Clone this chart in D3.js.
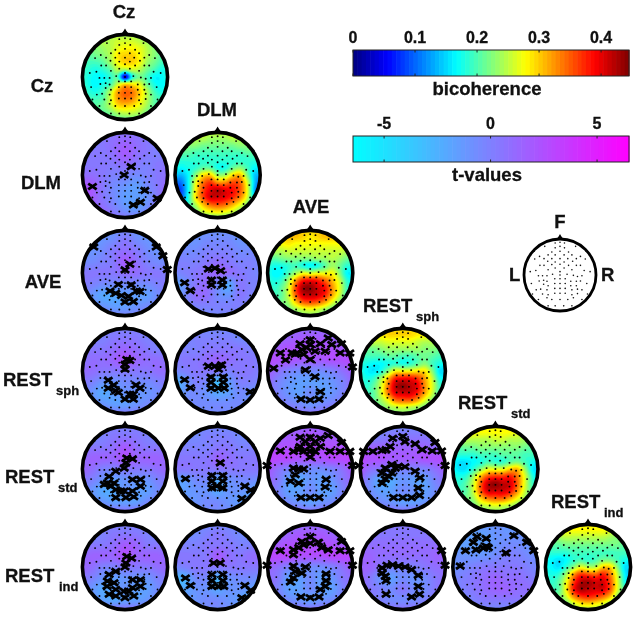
<!DOCTYPE html>
<html><head><meta charset="utf-8">
<script src="https://cdn.jsdelivr.net/npm/d3@7"></script>
<style>html,body{margin:0;background:#fff}svg{display:block;filter:blur(.35px)}text{font-family:"Liberation Sans",Arial,sans-serif;font-weight:bold;fill:#111;stroke:#111;stroke-width:.3px}</style>
</head><body><svg id="c" width="638" height="619"></svg>
<script>
const conditions=["Cz","DLM","AVE","REST_sph","REST_std","REST_ind"];
const bicoTicks=[0,.1,.2,.3,.4];
const tTicks=[-5,0,5];
// electrode layout, hundredths of head radius
const electrodes=[[0,-88],[-13,-86],[12,-86],[0,-77],[-41,-77],[42,-77],[-13,-73],[12,-73],[-69,-64],[70,-64],
[-22,-62],[0,-64],[23,-62],[-32,-54],[-13,-54],[11,-54],[32,-54],[-43,-44],[-22,-44],[0,-44],[21,-44],[44,-44],[-68,-43],[68,-43],
[-33,-37],[-13,-35],[11,-35],[34,-37],[-22,-28],[0,-29],[23,-26],[-54,-26],[-43,-26],[44,-26],[55,-26],[-13,-19],[11,-19],[-32,-14],[32,-14],
[-80,-9],[81,-9],[0,-9],[-58,2],[-47,2],[-35,2],[-20,-2],[19,-2],[36,1],[47,4],[59,2],[0,0],
[-77,23],[-56,16],[-44,14],[-35,17],[-14,10],[0,10],[14,10],[29,17],[44,17],[55,16],[72,23],
[-44,25],[-32,29],[-14,23],[0,23],[14,23],[29,29],[44,29],
[-64,40],[-52,38],[-35,40],[-14,36],[0,36],[14,36],[32,40],[47,38],[59,40],
[-47,51],[-32,53],[-14,49],[0,49],[14,49],[32,53],[47,50],
[-58,66],[-35,61],[-22,66],[0,66],[21,66],[36,61],[59,66],
[-32,83],[-13,83],[10,83],[32,83],[-74,51],[74,51],[-55,-50],[55,-50],[-65,-12],[65,-12]];
// bicoherence ×100 on a 13×13 grid
const bicoCz=[
[24,24,24,24,24,24,24,24,24,24,24,24,24],
[23,23,24,25,25,26,26,26,25,24,23,22,22],
[22,22,23,24,25,27,28,28,27,25,23,22,21],
[21,21,22,23,25,29,30,30,28,25,23,21,21],
[21,20,20,21,24,28,30,30,28,24,22,20,20],
[20,19,18,19,21,25,24,26,25,22,20,18,19],
[20,18,17,17,19,20,5,18,22,20,17,17,19],
[20,18,17,18,20,26,30,29,27,22,18,17,18],
[21,19,18,20,25,32,35,34,30,25,20,18,19],
[21,20,20,21,26,32,34,33,29,25,21,20,20],
[22,21,21,22,25,29,30,29,27,24,21,21,21],
[22,22,21,21,22,24,25,25,24,22,21,21,21],
[21,21,21,21,21,21,21,21,21,21,21,21,21]];
const bicoDLM=[
[26,26,26,26,26,26,26,26,26,26,26,26,26],
[26,25,25,25,25,24,24,24,25,25,25,25,26],
[25,24,23,23,22,22,22,22,22,23,23,24,24],
[22,21,21,20,20,20,20,20,20,20,21,21,22],
[20,19,19,19,19,19,19,19,19,19,19,19,19],
[18,17,18,19,21,21,18,18,21,23,20,17,17],
[15,14,17,23,29,30,24,24,29,31,23,15,14],
[11,11,17,27,34,37,33,33,36,35,27,15,10],
[9,9,17,28,36,40,42,40,39,36,28,14,8],
[11,10,18,29,36,41,41,40,38,34,27,16,10],
[15,15,19,25,31,35,36,35,32,28,23,18,15],
[18,19,20,22,26,28,29,28,26,23,21,19,18],
[20,20,20,20,21,21,22,21,21,20,20,20,20]];
const bicoAVE=[
[30,30,30,30,30,30,30,30,30,30,30,30,30],
[29,30,30,31,31,30,29,30,31,31,30,29,28],
[27,28,28,29,28,28,28,28,28,28,28,27,27],
[24,25,25,26,26,26,26,26,26,26,26,25,25],
[22,21,22,23,23,23,23,24,24,25,24,22,22],
[20,18,18,19,20,18,17,18,21,24,22,19,19],
[19,17,17,20,24,27,26,27,27,28,23,17,17],
[20,18,19,24,32,38,39,38,35,31,26,19,17],
[21,19,21,26,36,43,44,41,39,33,27,20,18],
[21,20,21,26,35,41,42,41,38,32,26,20,19],
[21,20,22,24,30,35,36,35,32,27,23,20,20],
[21,21,21,22,24,26,27,26,24,22,21,21,21],
[22,22,22,22,22,23,23,23,22,22,22,22,22]];
const bicoSph=[
[29,29,29,29,29,29,29,29,29,29,29,29,29],
[27,28,29,29,30,30,30,30,29,29,27,25,25],
[25,25,26,26,27,27,27,27,26,25,25,24,24],
[22,22,22,23,24,24,24,24,24,23,23,22,22],
[20,20,20,20,21,21,20,20,21,22,21,20,20],
[19,18,17,17,18,19,18,19,21,23,20,18,17],
[19,17,16,18,23,28,28,28,29,29,23,16,16],
[20,18,19,24,31,38,39,39,37,32,26,18,17],
[21,19,21,26,34,42,44,42,40,33,27,20,18],
[21,20,21,26,34,40,41,41,38,32,26,20,19],
[21,20,21,24,28,34,35,35,32,27,23,20,20],
[21,21,21,22,24,25,26,25,24,22,21,21,21],
[22,22,22,22,22,23,23,23,22,22,22,22,22]];
const bicoStd=[
[28,28,28,28,28,28,28,28,28,28,28,28,28],
[26,27,27,28,28,28,28,28,28,27,25,24,24],
[24,24,25,25,25,25,26,26,25,25,24,23,23],
[21,21,22,22,23,23,23,23,23,23,22,21,21],
[19,19,19,19,20,20,20,21,21,21,20,20,20],
[18,16,16,17,18,20,19,19,21,22,20,18,17],
[18,16,16,19,23,27,27,27,30,31,24,17,15],
[19,18,19,24,31,36,37,37,38,34,27,19,16],
[20,19,21,26,35,42,44,42,41,35,27,20,18],
[21,20,21,26,35,41,41,41,39,33,26,21,19],
[21,20,22,24,30,34,35,35,32,28,24,21,20],
[21,21,21,22,25,26,27,26,25,23,22,21,21],
[22,22,22,22,22,23,23,23,22,22,22,22,22]];
const bicoInd=[
[28,28,28,28,28,28,28,28,28,28,28,28,28],
[25,26,27,28,28,28,28,28,28,27,25,24,24],
[23,23,24,25,25,25,25,25,25,24,23,23,23],
[21,21,21,22,22,22,22,22,22,22,22,21,21],
[19,19,19,19,20,20,20,20,20,20,20,20,20],
[18,17,16,17,19,20,19,20,22,22,20,18,17],
[18,17,16,19,23,27,25,25,30,30,23,16,16],
[19,18,19,24,32,37,36,35,38,34,26,17,14],
[20,19,21,27,36,42,43,41,41,36,27,18,15],
[21,20,21,28,38,43,42,41,41,36,27,20,17],
[21,20,22,26,33,37,38,37,35,31,24,21,19],
[21,21,21,22,26,29,30,29,27,24,22,21,21],
[22,22,22,22,23,24,24,24,23,22,22,22,22]];
// t-values on a 9×9 grid: row vs column condition
const tDLMCz=[[0,0,0,.5,.5,.5,0,0,0],[0,0,.5,1,1.5,1,.5,0,0],[0,.5,.5,1,2,1,.5,0,0],[.5,.5,.5,.5,1,.5,0,.5,.5],[1,1,.5,0,0,-.5,0,.5,1],[2.5,2,.5,-.5,-1,-1.5,-.5,.5,1.5],[3,2,.5,-.5,-1.5,-1.5,-1,.5,2],[2,1.5,1,0,-1,-1.5,-.5,1,1.5],[2,2,2,1,.5,.5,1,1,1]];
const tAVECz=[[-1.5,-1.5,-1.5,-1,-.5,-1,-1.5,-1.5,-1.5],[-1.5,-1.5,-1,-.5,.5,-.5,-1,-1.5,-1.5],[-1,-1,-.5,.5,1,.5,-.5,-1,-1],[-.5,-.5,0,.5,2,1,0,-.5,-.5],[.5,.5,.5,.5,1,1,.5,.5,0],[.5,0,-.5,-.5,-.5,-.5,-.5,0,.5],[0,-1,-2,-2,-1.5,-1.5,-1.5,-.5,0],[0,-.5,-1,-1.5,-1.5,-1,-.5,0,.5],[.5,.5,.5,0,0,0,.5,.5,.5]];
const tAVEDLM=[[-1,-1,-1,-1,-1,-1,-1,-1,-1],[-1,-1,-1,-.5,-.5,-.5,-1,-1,-1],[-.5,-.5,-.5,0,0,0,-.5,-.5,-.5],[0,0,0,.5,1,.5,0,0,-.5],[-.5,0,.5,1,1.5,1,.5,0,-.5],[-2,-1,.5,1,-.5,-2,.5,0,0],[-1.5,-.5,1,1,-.5,-1,.5,0,-.5],[-1,-.5,0,0,0,0,0,-.5,-1],[-.5,-.5,-.5,-.5,-.5,-.5,-.5,-.5,-.5]];
const tSphCz=[[0,0,0,0,0,0,0,0,0],[0,0,0,.5,.5,.5,0,0,0],[0,.5,.5,1,1.5,1,.5,0,0],[.5,1,1,1.5,2.5,1.5,1,1,.5],[1,1,.5,.5,.5,.5,.5,1,1],[.5,0,-1,-1,-.5,-.5,-.5,0,.5],[0,-1,-2,-1.5,-1,-1,-1,-.5,0],[0,-.5,-1,-1.5,-1.5,-1,-.5,0,0],[.5,.5,.5,.5,.5,.5,.5,.5,.5]];
const tSphDLM=[[-.5,-.5,-.5,-.5,-.5,-.5,-.5,-.5,-.5],[-.5,-.5,0,0,0,0,-.5,-.5,-.5],[0,0,0,.5,.5,.5,.5,0,0],[0,.5,.5,1,1.5,1,.5,.5,0],[-.5,0,.5,.5,.5,0,.5,.5,0],[-3,-1.5,0,-.5,-3,-1.5,0,0,-.5],[-2.5,-1,-.5,-1,-2,-1.5,-.5,-1,-1.5],[-1,-.5,-.5,-.5,-.5,-.5,-.5,-1,-1],[-.5,-.5,-.5,-.5,-.5,-.5,-.5,-.5,-.5]];
const tSphAVE=[[1,1,1,1,1,1,1,1,1],[1,1.5,1.5,2,2,2,1.5,1.5,1],[2,2,2.5,2.5,2.5,2.5,2.5,2,2],[3,2.5,2.5,2,2,2,2.5,2.5,3],[2,1,0,-.5,-.5,-.5,0,1,2],[1.5,0,-1,-1.5,-1.5,-1.5,-1,0,1.5],[1,0,-1,-1.5,-.5,-1.5,-1,0,1],[1,.5,0,-.5,-1,-.5,0,.5,1],[1,1,1,1,1,1,1,1,1]];
const tStdCz=[[0,0,0,0,0,0,0,0,0],[-.5,-.5,0,.5,.5,.5,0,-.5,-.5],[0,.5,.5,1,2,1,.5,.5,0],[1,1.5,1.5,1.5,2.5,1.5,1.5,1.5,1],[1.5,1,0,0,.5,.5,.5,1,1.5],[.5,0,-1,-1.5,-1,-1,-1,0,.5],[0,-1,-2,-2,-1,-1.5,-1.5,-.5,0],[.5,-.5,-1,-1.5,-1.5,-1.5,-.5,0,.5],[1,1,1,1,1,1,1,1,1]];
const tStdDLM=[[-.5,-.5,-.5,-.5,-.5,-.5,-.5,-.5,-.5],[-.5,-.5,-.5,0,0,0,-.5,-.5,-.5],[0,0,0,0,.5,.5,0,0,0],[.5,.5,.5,.5,1.5,1,.5,.5,.5],[.5,.5,.5,.5,.5,.5,.5,.5,.5],[-1.5,-1.5,-.5,-.5,-2,-1,-.5,-.5,-1],[-2,-1.5,-1,-1,-2,-1,-1,-1.5,-2.5],[-1,-1,-1,-.5,-.5,-1,-1.5,-2,-2],[-.5,-.5,-.5,-.5,-.5,-.5,-.5,-.5,-.5]];
const tStdAVE=[[1.5,1.5,1.5,1.5,1.5,1.5,1.5,1.5,1.5],[1.5,1.5,2,2,2.5,2,2,1.5,1.5],[2.5,2.5,2.5,2.5,3,2.5,2.5,2.5,2.5],[3.5,3,3,2.5,2.5,2.5,3,3,3.5],[2.5,1,0,-.5,-.5,-.5,0,1,2.5],[1.5,.5,-1.5,-2,-1,-1.5,-1,.5,1.5],[1,0,-1.5,-1.5,-.5,-1.5,-1.5,0,1],[1,.5,-.5,-1,-1.5,-1,-.5,.5,1],[1,1,1,1,1,1,1,1,1]];
const tStdSph=[[-.5,-.5,-.5,-.5,-.5,-.5,-.5,-.5,-.5],[-.5,-.5,0,.5,.5,.5,.5,0,-.5],[1,1.5,1.5,1.5,1.5,1.5,1.5,1,1],[3,2.5,2.5,2,2,2,2.5,2.5,3],[2.5,1,.5,0,0,0,0,1,2],[1.5,-.5,-2,-2,-1,-1.5,-1.5,0,1],[1,-.5,-1.5,-1.5,-.5,-1,-1.5,-.5,.5],[.5,0,-.5,-1,-1.5,-1.5,-1,0,.5],[1,1,1,1,1,1,1,1,1]];
const tIndCz=[[0,0,0,0,0,0,0,0,0],[-.5,-.5,0,.5,.5,.5,0,-.5,-.5],[0,.5,.5,1,2,1.5,.5,.5,0],[1,1.5,1.5,1.5,2.5,1.5,1.5,1.5,1],[1.5,1,0,0,.5,.5,.5,1,1.5],[.5,0,-1,-1.5,-1,-1,-1,0,.5],[0,-1,-2,-1.5,-1,-1.5,-1.5,-.5,0],[.5,-.5,-1.5,-2,-1.5,-1.5,-1,0,.5],[1,1,1,1,1,1,1,1,1]];
const tIndDLM=[[-.5,-.5,-.5,-.5,-.5,-.5,-.5,-.5,-.5],[-.5,-.5,-.5,0,.5,0,-.5,-.5,-.5],[0,0,0,.5,.5,.5,0,0,.5],[.5,.5,.5,.5,2,1,.5,1,1],[-.5,0,.5,.5,.5,.5,.5,.5,.5],[-2.5,-2.5,-.5,-.5,-2.5,-1,-.5,-.5,-1],[-2,-2,-1,-1,-2,-1,-1,-1.5,-2.5],[-1,-1,-1,-.5,-.5,-1,-1.5,-2.5,-2.5],[-.5,-.5,-.5,-.5,-.5,-.5,-.5,-.5,-.5]];
const tIndAVE=[[1,1,1,1,1,1,1,1,1],[1,1,1.5,2,2,2,1.5,1,1],[2,2,2.5,2.5,2.5,2.5,2.5,2,2],[3,3,3,2.5,2.5,2.5,3,3,3],[1.5,1,0,-.5,-.5,-.5,0,1,2],[1,.5,-1.5,-1.5,-.5,-1.5,-1,.5,1],[1,0,-1.5,-1.5,-.5,-1.5,-1.5,0,1],[1,.5,-.5,-1,-1.5,-1,-.5,.5,1],[1,1,1,1,1,1,1,1,1]];
const tIndSph=[[.5,.5,.5,.5,.5,.5,.5,.5,.5],[.5,.5,.5,.5,.5,.5,.5,.5,.5],[1,1,1,1,1,1,1,1,1],[1.5,1.5,1,1,1,1,1,1.5,1.5],[1.5,1.5,.5,0,0,0,.5,1,1],[1.5,.5,-1,-1.5,-.5,-1,-.5,.5,1],[1,.5,0,-.5,.5,-.5,-.5,.5,1],[1,.5,0,-.5,-.5,-.5,0,.5,.5],[1,1,1,1,1,1,1,1,1]];
const tIndStd=[[-1,-1,-1,-1,-1,-1,-1,-1,-1],[-1.5,-1.5,-1.5,-1.5,-1,-1,-1,-1,-1],[-1.5,-1.5,-1.5,-1.5,-1,-.5,-.5,-1,-1.5],[-1,-1,-1,-1,-.5,0,0,-.5,-1],[-1,-.5,0,.5,.5,.5,.5,0,-.5],[-.5,0,.5,1,1.5,1,1,.5,0],[-.5,0,.5,1,1.5,1.5,1,1,.5],[-.5,-.5,0,.5,.5,.5,.5,.5,.5],[-.5,-.5,-.5,-.5,-.5,-.5,-.5,-.5,-.5]];
// significant electrodes, hundredths of head radius
const xDLMCz=[[14,-19],[-2,0],[-74,26],[45,35],[73,53],[35,62],[19,68]];
const xAVECz=[[-71,-59],[71,-59],[86,-39],[96,-8],[11,-20],[0,-7],[-15,26],[14,27],[-34,41],[-21,46],[26,41],[34,42],[0,66],[19,65],[-8,51],[8,53]];
const xAVEDLM=[[-21,-9],[-6,-11],[7,-5],[-14,16],[11,16],[-14,27],[11,27],[-75,22],[-62,40]];
const xSphCz=[[4,-26],[11,-24],[0,-15],[0,-4],[-38,21],[-26,32],[-38,39],[-21,45],[-15,49],[0,64],[19,64],[25,32],[34,39],[11,53],[19,53]];
const xSphDLM=[[-21,-11],[-6,-11],[9,-14],[2,-4],[-15,14],[13,14],[-15,26],[13,26],[-15,39],[2,39],[15,39],[-75,20],[-62,38],[74,47]];
const xSphAVE=[[41,-75],[71,-62],[0,-71],[-23,-62],[23,-62],[49,-60],[-41,-41],[-68,-41],[-56,-25],[-30,-41],[-19,-49],[-8,-53],[0,-60],[11,-45],[34,-45],[68,-41],[90,-41],[0,-26],[-83,-6],[96,-9],[-11,-2],[11,13],[23,47],[-21,64],[0,66],[20,64],[-34,-38],[-15,-38]];
const xStdCz=[[4,-25],[17,-23],[2,-14],[-2,-2],[-21,5],[-36,17],[-40,32],[-25,32],[-21,47],[-2,50],[17,24],[35,24],[35,39],[17,50],[-21,65],[2,65],[20,63],[-47,35],[-32,39],[-10,50]];
const xStdDLM=[[6,-14],[-13,15],[12,15],[-13,28],[12,28],[-13,43],[12,43],[-2,39],[-73,22],[62,39],[75,48],[55,67]];
const xStdAVE=[[-23,-72],[0,-72],[23,-70],[41,-76],[71,-60],[-11,-62],[11,-62],[-23,-51],[0,-51],[23,-51],[-38,-40],[-15,-40],[11,-40],[45,-40],[-68,-41],[68,-40],[90,-40],[0,-27],[-26,-44],[0,-40],[-38,-2],[-15,0],[-34,13],[-26,0],[-45,28],[-26,32],[36,24],[34,41],[-21,65],[0,65],[20,65],[-98,-8],[96,-8]];
const xStdSph=[[-23,-70],[0,-74],[5,-62],[28,-57],[73,-60],[-29,-51],[-47,-42],[-38,-44],[-89,-40],[-68,-40],[44,-44],[67,-41],[88,-41],[96,-8],[-25,-10],[-40,-2],[-17,-2],[-47,9],[-25,9],[-40,23],[-47,32],[-32,17],[5,-5],[28,5],[39,20],[35,43],[38,60],[-21,65],[0,65],[20,65],[-10,-6],[-100,-8]];
const xIndCz=[[4,-24],[15,-20],[2,-9],[0,0],[-21,10],[-36,17],[-40,32],[-25,36],[-41,44],[-21,51],[-36,62],[-21,66],[-2,55],[0,70],[20,66],[17,29],[35,29],[35,44],[17,47],[9,55]];
const xIndDLM=[[-9,-9],[6,-9],[-13,17],[12,17],[-13,31],[12,31],[-13,44],[2,44],[14,44],[-73,25],[-62,42],[62,42],[75,53],[55,70]];
const xIndAVE=[[0,-69],[-19,-58],[19,-56],[-38,-39],[-26,-44],[0,-54],[26,-44],[41,-39],[-68,-37],[-38,-28],[68,-37],[90,-37],[71,-58],[-15,-50],[-98,-4],[96,-4],[-38,-2],[-11,0],[-34,10],[-19,14],[-45,34],[-38,25],[36,16],[36,31],[23,51],[34,44],[-21,68],[0,70],[20,68]];
const xIndSph=[[-47,2],[-36,-4],[-23,-5],[-10,-2],[5,0],[20,6],[35,19],[-47,14],[-38,31],[-40,21],[35,44],[38,62],[20,68],[-38,62],[88,-37],[96,-4]];
const xIndStd=[[-42,-69],[-21,-65],[-50,-56],[-21,-47],[-44,-39],[-27,-43],[-16,-44],[-68,-37],[42,-71],[71,-56],[87,-37],[24,-32],[-80,-2]];

const heads=[
 {r:0,c:0,g:bicoCz,x:[]},{r:1,c:1,g:bicoDLM,x:[]},{r:2,c:2,g:bicoAVE,x:[]},{r:3,c:3,g:bicoSph,x:[]},{r:4,c:4,g:bicoStd,x:[]},{r:5,c:5,g:bicoInd,x:[]},
 {r:1,c:0,g:tDLMCz,x:xDLMCz,t:1},
 {r:2,c:0,g:tAVECz,x:xAVECz,t:1},{r:2,c:1,g:tAVEDLM,x:xAVEDLM,t:1},
 {r:3,c:0,g:tSphCz,x:xSphCz,t:1},{r:3,c:1,g:tSphDLM,x:xSphDLM,t:1},{r:3,c:2,g:tSphAVE,x:xSphAVE,t:1},
 {r:4,c:0,g:tStdCz,x:xStdCz,t:1},{r:4,c:1,g:tStdDLM,x:xStdDLM,t:1},{r:4,c:2,g:tStdAVE,x:xStdAVE,t:1},{r:4,c:3,g:tStdSph,x:xStdSph,t:1},
 {r:5,c:0,g:tIndCz,x:xIndCz,t:1},{r:5,c:1,g:tIndDLM,x:xIndDLM,t:1},{r:5,c:2,g:tIndAVE,x:xIndAVE,t:1},{r:5,c:3,g:tIndSph,x:xIndSph,t:1},{r:5,c:4,g:tIndStd,x:xIndStd,t:1}];

const svg=d3.select("#c");
const colX=d3.scaleLinear([0,5],[125,588]), rowY=d3.scaleLinear([0,5],[77,567]);
const jetStops=[0,.125,.375,.625,.875,1];
const BMAX=44.5, TMAX=6.5;
const jet=d3.scaleLinear(jetStops.map(s=>s*BMAX),["#00007f","#0000ff","#00ffff","#ffff00","#ff0000","#7f0000"]).clamp(true);
const cool=d3.scaleLinear([-TMAX,TMAX],["#00ffff","#ff00ff"]).clamp(true);
const bicoLevels=d3.range(0,BMAX,BMAX/64), tLevels=d3.range(-TMAX,TMAX,TMAX/32);
const UNIT=44, N=89;
const cr=(a,b,c,d,u)=>.5*(2*b+(c-a)*u+(2*a-5*b+4*c-d)*u*u+(3*b-a-3*c+d)*u*u*u);
function upsample(g){
  const n=g.length,out=new Float64Array(N*N),at=(i,j)=>g[Math.max(0,Math.min(n-1,j))][Math.max(0,Math.min(n-1,i))];
  const pos=d3.scaleLinear([0,N-1],[0,n-1]);
  for(let j=0;j<N;j++){const fy=pos(j),y0=Math.min(n-2,Math.floor(fy)),v=fy-y0;
    for(let i=0;i<N;i++){const fx=pos(i),x0=Math.min(n-2,Math.floor(fx)),u=fx-x0,col=[];
      for(let k=-1;k<=2;k++)col.push(cr(at(x0-1,y0+k),at(x0,y0+k),at(x0+1,y0+k),at(x0+2,y0+k),u));
      out[j*N+i]=cr(col[0],col[1],col[2],col[3],v);}}
  return out;
}
const gridPx=d3.scaleLinear([.5,N-.5],[-UNIT,UNIT]);
const gpath=d3.geoPath(d3.geoTransform({point(x,y){this.stream.point(gridPx(x),gridPx(y));}}));
svg.append("defs").append("clipPath").attr("id","hc").append("circle").attr("r",43);
const hu=d3.scaleLinear([-100,100],[-UNIT,UNIT]);
const xMark="M-4.2,-2.9L4.2,2.9M-4.2,2.9L4.2,-2.9";
function headOutline(g,k,sw){
  g.append("circle").attr("r",42.6*k).attr("fill","none").attr("stroke","#000").attr("stroke-width",sw);
  g.append("path").attr("d",`M${-5*k},${-41.5*k}L${-1.5*k},${-46*k}L0,${-48.5*k}L${1.5*k},${-46*k}L${5*k},${-41.5*k}Z`).attr("fill","#000");
}
heads.forEach(h=>{
  const g=svg.append("g").attr("transform",`translate(${colX(h.c)},${rowY(h.r)})`);
  const f=g.append("g").attr("clip-path","url(#hc)");
  const vals=upsample(h.g), col=h.t?cool:jet, lv=h.t?tLevels:bicoLevels;
  f.append("rect").attr("x",-UNIT).attr("y",-UNIT).attr("width",2*UNIT).attr("height",2*UNIT).attr("fill",col(d3.min(vals)));
  d3.contours().size([N,N]).thresholds(lv)(vals).filter(c=>c.coordinates.length).forEach(c=>{
    f.append("path").attr("d",gpath(c)).attr("fill",col(c.value));
  });
  headOutline(g,1,3.6);
  g.selectAll(".e").data(electrodes).join("circle").attr("cx",d=>hu(d[0])).attr("cy",d=>hu(d[1])).attr("r",.95).attr("fill","#000");
  g.selectAll(".x").data(h.x).join("path").attr("d",xMark).attr("transform",d=>`translate(${hu(d[0])},${hu(d[1])})`).attr("fill","none").attr("stroke","#000").attr("stroke-width",2.8);
});
// legend head
const lg=svg.append("g").attr("transform","translate(560,275)");
headOutline(lg,.845,2.8);
lg.selectAll(".e").data(electrodes).join("circle").attr("cx",d=>hu(d[0])*.845).attr("cy",d=>hu(d[1])*.845).attr("r",.8).attr("fill","#111");
const label=(s,x,y,size,anchor)=>svg.append("text").attr("x",x).attr("y",y).attr("font-size",size).attr("text-anchor",anchor||"start").text(s);
label("F",560,228,18.5,"middle");label("L",509,281,18.5);label("R",601,281,18.5);
// colour bars
const barX=d3.scaleLinear([0,.445],[353,629]), tX=d3.scaleLinear([-6.46,6.5],[353,629]);
function bar(y0,h,cols,ticks,sc,fmt,tickY,title,titleY){
  const st=cols.length, w=276/st;
  cols.forEach((c,i)=>svg.append("rect").attr("x",353+i*w).attr("y",y0).attr("width",w+.6).attr("height",h).attr("fill",c));
  svg.append("rect").attr("x",353).attr("y",y0).attr("width",276).attr("height",h).attr("fill","none").attr("stroke","#222").attr("stroke-width",1);
  ticks.forEach(t=>{
    svg.append("path").attr("d",`M${sc(t)},${y0}v2.5M${sc(t)},${y0+h}v-2.5`).attr("stroke","#222").attr("stroke-width",1);
    label(fmt(t),sc(t),tickY,16,"middle");
  });
  label(title,487,titleY,18.5,"middle");
}
bar(50,26,d3.range(64).map(i=>jet((i+.5)/64*BMAX)),bicoTicks,barX,d=>d===0?"0":String(d),43,"bicoherence",95);
bar(136,26,d3.range(64).map(i=>cool(-TMAX+(i+.5)/64*2*TMAX)),tTicks,tX,d=>String(d),129,"t-values",181);
// condition labels
label("Cz",124,18,18.5,"middle");label("DLM",217,116,18.5,"middle");label("AVE",311,213,18.5,"middle");
label("Cz",42,92,18.5,"middle");label("DLM",41,189,18.5,"middle");label("AVE",43,288,18.5,"middle");
const rest=[["sph",363,312,416,321],["std",458,409,511,418],["ind",551,508,604,517],["sph",3,386,56,395],["std",5,483,58,492],["ind",5,582,59,591]];
rest.forEach(([s,x,y,sx,sy])=>{label("REST",x,y,18.5);label(s,sx,sy,13);});
</script></body></html>
